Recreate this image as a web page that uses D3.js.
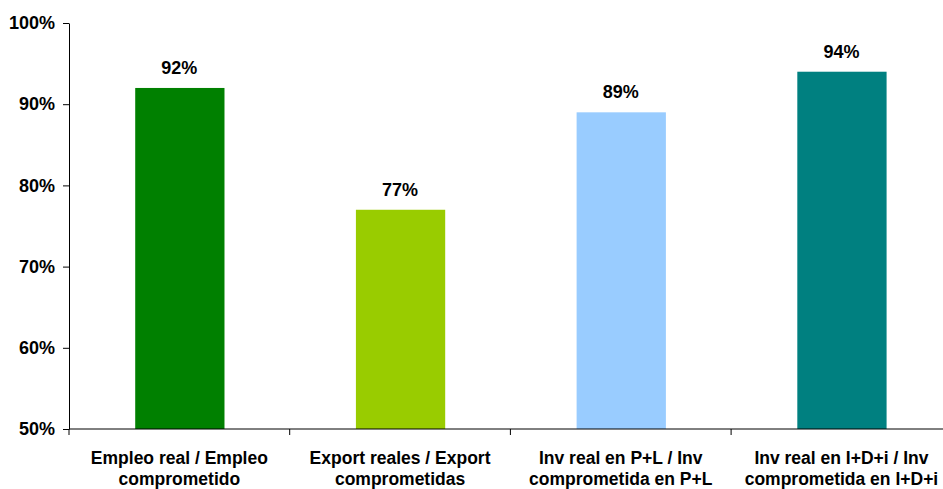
<!DOCTYPE html>
<html>
<head>
<meta charset="utf-8">
<script src="https://cdn.jsdelivr.net/npm/d3@7"></script>
<style>
  body { margin: 0; background: #fff; }
  svg text { font-family: "Liberation Sans", Arial, sans-serif; font-weight: bold; fill: #000; }
</style>
</head>
<body>
<div id="chart"></div>
<script>
const categories = [
  ['Empleo real / Empleo', 'comprometido'],
  ['Export reales / Export', 'comprometidas'],
  ['Inv real en P+L / Inv', 'comprometida en P+L'],
  ['Inv real en I+D+i / Inv', 'comprometida en I+D+i']
]
const values = [92, 77, 89, 94]
const colors = ['#008000', '#99cc00', '#99ccff', '#008080']
const yTicks = [50, 60, 70, 80, 90, 100]

const w = 943, h = 489
const margin = { top: 23, left: 69, bottom: 60 }
const step = 220.7

const svg = d3.select('#chart').append('svg').attr('width', w).attr('height', h)
const g = svg.append('g').attr('transform', `translate(${margin.left}, ${margin.top})`)

const x = d3.scaleBand()
  .domain(d3.range(categories.length))
  .range([0, step * categories.length])
  .paddingInner(0.6)
  .paddingOuter(0.3)
const y = d3.scaleLinear().domain([50, 100]).range([406, 0])

// bars
g.selectAll('.bar').data(values).enter()
  .append('rect').classed('bar', true)
  .attr('x', (d, i) => x(i))
  .attr('width', x.bandwidth() + 1)
  .attr('y', d => y(d))
  .attr('height', d => y(50) - y(d))
  .attr('fill', (d, i) => colors[i])

// value labels
g.selectAll('.label').data(values).enter()
  .append('text').classed('label', true)
  .attr('x', (d, i) => x(i) + x.bandwidth() / 2)
  .attr('y', d => y(d) - 14)
  .attr('text-anchor', 'middle')
  .attr('font-size', '18px')
  .text(d => d + '%')

// y axis
const yAxis = g.append('g')
  .call(d3.axisLeft(y).tickValues(yTicks).tickFormat(d => d + '%').tickSizeInner(6).tickSizeOuter(0).tickPadding(8))
yAxis.select('.domain').attr('stroke', '#000')
yAxis.selectAll('.tick line').attr('stroke', '#000')
yAxis.selectAll('.tick text').attr('font-size', '18px')

// x axis: separators between categories
const xAxis = g.append('g').attr('transform', `translate(0, ${y(50)})`)
xAxis.append('line')
  .attr('x1', 0).attr('x2', step * categories.length)
  .attr('stroke', '#000')
xAxis.selectAll('.sep').data(d3.range(categories.length + 1)).enter()
  .append('line').classed('sep', true)
  .attr('x1', d => d * step).attr('x2', d => d * step)
  .attr('y1', 0).attr('y2', 6)
  .attr('stroke', '#000')

// category labels
const catText = xAxis.selectAll('.cat').data(categories).enter()
  .append('text').classed('cat', true)
  .attr('text-anchor', 'middle')
  .attr('font-size', '17.5px')
  .attr('transform', (d, i) => `translate(${x(i) + x.bandwidth() / 2}, 0)`)
catText.selectAll('tspan').data(d => d).enter()
  .append('tspan')
  .attr('x', 0)
  .attr('y', (d, i) => 35 + i * 21)
  .text(d => d)
</script>
</body>
</html>
